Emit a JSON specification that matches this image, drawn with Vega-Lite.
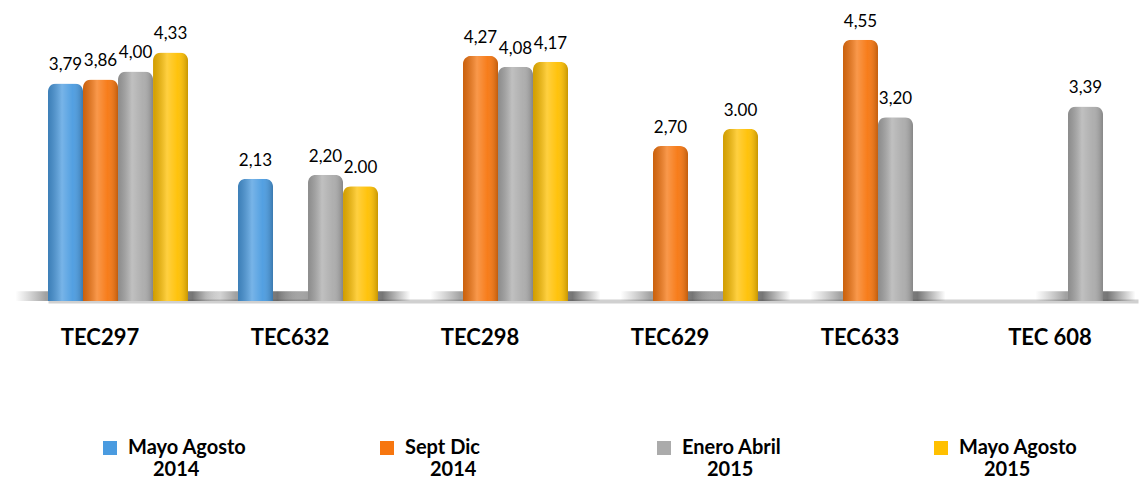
{
  "$schema": "https://vega.github.io/schema/vega-lite/v6.json",
  "width": 1090,
  "height": 287,
  "autosize": {"type": "none"},
  "padding": {"left": 48, "top": 14, "right": 4, "bottom": 182},
  "background": "white",
  "config": {"view": {"stroke": null}, "font": "Lato"},
  "data": {
    "values": [
      {"grupo": "TEC297", "serie": "Mayo Agosto 2014", "valor": 3.79, "etiqueta": "3,79"},
      {"grupo": "TEC297", "serie": "Sept Dic 2014", "valor": 3.86, "etiqueta": "3,86"},
      {"grupo": "TEC297", "serie": "Enero Abril 2015", "valor": 4.00, "etiqueta": "4,00"},
      {"grupo": "TEC297", "serie": "Mayo Agosto 2015", "valor": 4.33, "etiqueta": "4,33"},
      {"grupo": "TEC632", "serie": "Mayo Agosto 2014", "valor": 2.13, "etiqueta": "2,13"},
      {"grupo": "TEC632", "serie": "Enero Abril 2015", "valor": 2.20, "etiqueta": "2,20"},
      {"grupo": "TEC632", "serie": "Mayo Agosto 2015", "valor": 2.00, "etiqueta": "2.00"},
      {"grupo": "TEC298", "serie": "Sept Dic 2014", "valor": 4.27, "etiqueta": "4,27"},
      {"grupo": "TEC298", "serie": "Enero Abril 2015", "valor": 4.08, "etiqueta": "4,08"},
      {"grupo": "TEC298", "serie": "Mayo Agosto 2015", "valor": 4.17, "etiqueta": "4,17"},
      {"grupo": "TEC629", "serie": "Sept Dic 2014", "valor": 2.70, "etiqueta": "2,70"},
      {"grupo": "TEC629", "serie": "Mayo Agosto 2015", "valor": 3.00, "etiqueta": "3.00"},
      {"grupo": "TEC633", "serie": "Sept Dic 2014", "valor": 4.55, "etiqueta": "4,55"},
      {"grupo": "TEC633", "serie": "Enero Abril 2015", "valor": 3.20, "etiqueta": "3,20"},
      {"grupo": "TEC 608", "serie": "Enero Abril 2015", "valor": 3.39, "etiqueta": "3,39"}
    ]
  },
  "encoding": {
    "x": {
      "field": "grupo", "type": "nominal",
      "sort": ["TEC297", "TEC632", "TEC298", "TEC629", "TEC633", "TEC 608"],
      "scale": {"paddingInner": 0.263, "paddingOuter": 0},
      "axis": {"title": null, "labelAngle": 0, "labelFontSize": 22, "labelFontWeight": "bold", "labelColor": "black", "labelPadding": 26, "labelOffset": -18, "ticks": false, "domainColor": "#d0d0d0", "domainWidth": 4}
    },
    "xOffset": {
      "field": "serie", "type": "nominal",
      "sort": ["Mayo Agosto 2014", "Sept Dic 2014", "Enero Abril 2015", "Mayo Agosto 2015"],
      "scale": {"paddingInner": 0, "paddingOuter": 0}
    }
  },
  "layer": [
    {
      "mark": {
        "type": "bar", "width": 100,
        "color": {"gradient": "linear", "x1": 0, "x2": 1, "y1": 0, "y2": 0,
          "stops": [
            {"offset": 0, "color": "rgba(90,90,90,0)"},
            {"offset": 0.3, "color": "rgba(70,70,70,0.5)"},
            {"offset": 0.72, "color": "rgba(60,60,60,0.7)"},
            {"offset": 1, "color": "rgba(60,60,60,0)"}
          ]}
      },
      "encoding": {
        "y": {"datum": 0.17, "type": "quantitative", "scale": {"domain": [0, 5]}, "axis": null},
        "y2": {"datum": 0}
      }
    },
    {
      "mark": {"type": "bar", "cornerRadiusTopLeft": 8, "cornerRadiusTopRight": 8},
      "encoding": {
        "y": {"field": "valor", "type": "quantitative", "scale": {"domain": [0, 5]}, "axis": null},
        "color": {
          "field": "serie", "type": "nominal",
          "scale": {"domain": ["Mayo Agosto 2014", "Sept Dic 2014", "Enero Abril 2015", "Mayo Agosto 2015"], "range": ["#4A9BE0", "#F7760F", "#ABABAB", "#FFC000"]},
          "legend": {
            "orient": "none", "legendX": 52, "legendY": 424, "direction": "horizontal", "columns": 4, "gridAlign": "all", "columnPadding": 130,
            "title": null, "symbolType": "square", "symbolSize": 196, "symbolStrokeWidth": 0,
            "labelFontSize": 20, "labelFontWeight": "bold", "labelColor": "black", "labelLimit": 0, "labelOffset": 8,
            "labelExpr": "[slice(datum.label, 0, -5), '\u200b\u2002\u2002\u2005' + slice(datum.label, -4)]"
          }
        }
      }
    },
    {
      "mark": {
        "type": "bar", "cornerRadiusTopLeft": 8, "cornerRadiusTopRight": 8,
        "color": {"gradient": "linear", "x1": 0, "x2": 1, "y1": 0, "y2": 0,
          "stops": [
            {"offset": 0, "color": "rgba(0,0,0,0.18)"},
            {"offset": 0.4, "color": "rgba(255,255,255,0.25)"},
            {"offset": 0.7, "color": "rgba(255,255,255,0.05)"},
            {"offset": 1, "color": "rgba(0,0,0,0.22)"}
          ]}
      },
      "encoding": {
        "y": {"field": "valor", "type": "quantitative"}
      }
    },
    {
      "mark": {"type": "text", "dy": -9, "baseline": "bottom", "fontSize": 17, "color": "black"},
      "encoding": {
        "y": {"field": "valor", "type": "quantitative"},
        "text": {"field": "etiqueta"}
      }
    }
  ]
}
